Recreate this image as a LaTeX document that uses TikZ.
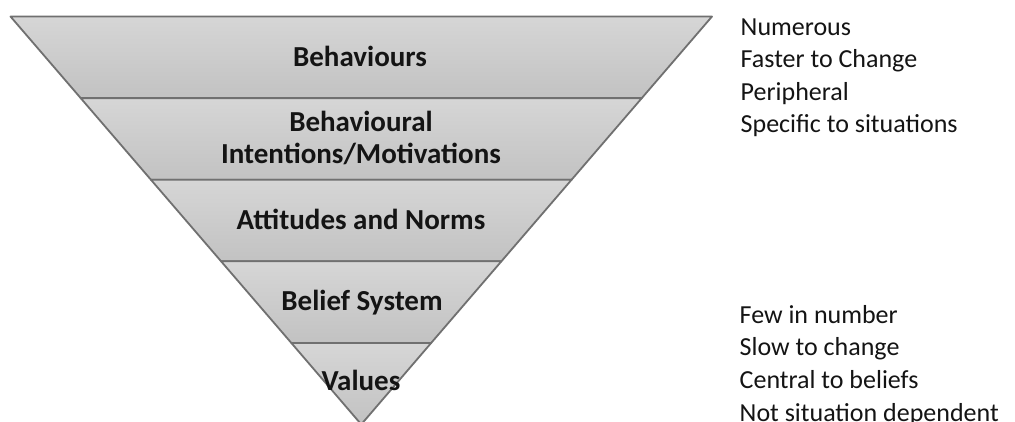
\documentclass[tikz,border=0pt]{standalone}
\usepackage{fontspec}
\setmainfont{Carlito}
\definecolor{bandtop}{RGB}{214,214,214}
\definecolor{bandbot}{RGB}{194,194,194}
\definecolor{edge}{RGB}{112,112,112}
\begin{document}
\begin{tikzpicture}[x=1pt,y=-1pt,
  band/.style={top color=bandtop,bottom color=bandbot,draw=edge,line width=1.8pt,line join=round},
  layer/.style={font=\fontsize{29}{32}\selectfont\bfseries,anchor=base,inner sep=0pt,text=black!92},
  note/.style={font=\fontsize{26}{32}\selectfont,anchor=base west,inner sep=0pt,text=black!92}]
  \useasboundingbox[fill=white] (0,0) rectangle (1015,421);

  % corners of the inverted pyramid, level by level
  \coordinate (L0) at (10.5,16.5);  \coordinate (R0) at (712,16.5);
  \coordinate (L1) at (80.7,98.1);  \coordinate (R1) at (641.8,98.1);
  \coordinate (L2) at (150.9,179.7); \coordinate (R2) at (571.6,179.7);
  \coordinate (L3) at (221.1,261.3); \coordinate (R3) at (501.4,261.3);
  \coordinate (L4) at (291.3,342.9); \coordinate (R4) at (431.2,342.9);
  \coordinate (apex) at (361.25,424.4);

  % bands
  \path[band] (L0) -- (R0) -- (R1) -- (L1) -- cycle;
  \path[band] (L1) -- (R1) -- (R2) -- (L2) -- cycle;
  \path[band] (L2) -- (R2) -- (R3) -- (L3) -- cycle;
  \path[band] (L3) -- (R3) -- (R4) -- (L4) -- cycle;
  \path[band] (L4) -- (R4) -- (apex) -- cycle;

  % layer names
  \node[layer] (behaviours) at (360,66.7) {Behaviours};
  \node[layer] (intentA) at (361,131.7) {Behavioural};
  \node[layer] (intentB) at (361,163) {Intentions/Motivations};
  \node[layer] (attitudes) at (361,229) {Attitudes and Norms};
  \node[layer] (belief) at (362,310.7) {Belief System};
  \node[layer] (values) at (361,390.7) {Values};

  % properties of the outer layers
  \foreach \t [count=\i] in {Numerous,Faster to Change,Peripheral,Specific to situations}
    \node[note] (top\i) at (740.5,{35+32.6*(\i-1)}) {\t};
  % properties of the inner layers
  \foreach \t [count=\i] in {Few in number,Slow to change,Central to beliefs,Not situation dependent}
    \node[note] (bot\i) at (739.5,{323.3+32.6*(\i-1)}) {\t};
\end{tikzpicture}
\end{document}
